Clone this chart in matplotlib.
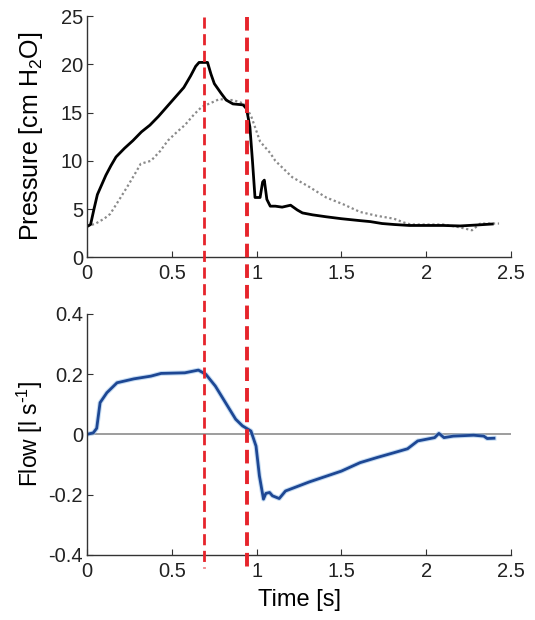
import numpy as np
import matplotlib
matplotlib.use("Agg")
import matplotlib.pyplot as plt
from matplotlib.lines import Line2D
from matplotlib.ticker import FormatStrFormatter
import matplotlib.transforms as mtransforms

# solid pressure trace
p_solid_t = [0.0, 0.02, 0.04, 0.06, 0.08, 0.11, 0.14, 0.17, 0.22, 0.27, 0.32, 0.37,
             0.42, 0.47, 0.52, 0.57, 0.61, 0.64, 0.66, 0.71, 0.73, 0.75, 0.79, 0.82,
             0.86, 0.92, 0.94, 0.96, 0.975, 0.99, 1.02, 1.035, 1.045, 1.06, 1.08, 1.11,
             1.15, 1.2, 1.24, 1.27, 1.33, 1.41, 1.5, 1.61, 1.67, 1.74, 1.81, 1.9, 2.0,
             2.1, 2.2, 2.3, 2.39]
p_solid = [3.2, 3.4, 5.0, 6.5, 7.3, 8.5, 9.5, 10.4, 11.3, 12.1, 13.0, 13.7,
           14.6, 15.6, 16.6, 17.6, 18.8, 19.8, 20.2, 20.2, 19.0, 18.0, 17.0, 16.3,
           15.9, 15.8, 15.4, 13.5, 10.0, 6.2, 6.2, 7.8, 8.0, 6.0, 5.3, 5.3,
           5.2, 5.4, 4.9, 4.6, 4.4, 4.2, 4.0, 3.8, 3.7, 3.5, 3.4, 3.3, 3.3,
           3.3, 3.25, 3.35, 3.45]

# dotted pressure trace
p_dot_t = [0.0, 0.05, 0.1, 0.136, 0.19, 0.236, 0.28, 0.316, 0.376, 0.43, 0.476, 0.53,
           0.576, 0.63, 0.676, 0.73, 0.78, 0.83, 0.86, 0.93, 0.97, 1.0, 1.02, 1.08,
           1.11, 1.21, 1.31, 1.41, 1.51, 1.61, 1.71, 1.81, 1.87, 1.91, 2.0, 2.1, 2.2,
           2.27, 2.32, 2.43]
p_dot = [3.2, 3.5, 4.0, 4.5, 6.0, 7.3, 8.6, 9.7, 10.0, 11.0, 12.1, 13.0,
         13.7, 14.8, 15.6, 16.0, 16.4, 16.3, 16.3, 15.9, 14.5, 13.0, 12.0, 10.8,
         10.0, 8.3, 7.3, 6.2, 5.5, 4.7, 4.3, 4.0, 3.6, 3.4, 3.4, 3.4, 3.1,
         2.8, 3.5, 3.5]

# flow trace
flow_t = [0.0, 0.036, 0.056, 0.076, 0.116, 0.176, 0.276, 0.376, 0.436, 0.576, 0.656,
          0.70, 0.756, 0.816, 0.876, 0.916, 0.966, 0.996, 1.016, 1.04, 1.054, 1.076,
          1.093, 1.133, 1.17, 1.31, 1.5, 1.61, 1.71, 1.81, 1.89, 1.95, 2.05, 2.075,
          2.105, 2.16, 2.28, 2.34, 2.36, 2.40]
flow = [0.0, 0.005, 0.02, 0.105, 0.138, 0.171, 0.184, 0.193, 0.202, 0.204, 0.213,
        0.199, 0.16, 0.105, 0.05, 0.028, 0.011, -0.039, -0.138, -0.215, -0.196, -0.193,
        -0.204, -0.213, -0.188, -0.158, -0.122, -0.094, -0.077, -0.061, -0.048, -0.022,
        -0.011, 0.003, -0.011, -0.006, -0.003, -0.006, -0.014, -0.013]

event_times = [0.69, 0.94]

plt.rcParams["font.family"] = ["Liberation Sans", "DejaVu Sans"]
plt.rcParams["mathtext.default"] = "regular"
plt.rcParams["xtick.direction"] = "in"
plt.rcParams["ytick.direction"] = "in"

fig = plt.figure(figsize=(5.35, 6.2), dpi=100)
ax1 = fig.add_axes([0.163, 0.585, 0.792, 0.389])
ax2 = fig.add_axes([0.163, 0.105, 0.792, 0.389])

ax1.plot(p_dot_t, p_dot, color="#8a8a8a", lw=1.6, linestyle=(0, (1, 1.2)))
ax1.plot(p_solid_t, p_solid, color="black", lw=2)
ax1.set_xlim(0, 2.5)
ax1.set_ylim(0, 25)
ax1.set_yticks([0, 5, 10, 15, 20, 25])
ax1.set_ylabel("Pressure [cm H$_2$O]", fontsize=18)

ax2.axhline(0, xmin=0, xmax=1, color="#8c8c8c", lw=1.2)
ax2.plot(flow_t, flow, color="#9ec4ea", lw=3.5, alpha=0.6)
ax2.plot(flow_t, flow, color="#1d4794", lw=2)
ax2.set_xlim(0, 2.5)
ax2.set_ylim(-0.4, 0.4)
ax2.set_yticks([-0.4, -0.2, 0, 0.2, 0.4])
ax2.set_ylabel("Flow [l s$^{\\text{-}1}$]", fontsize=16.5)
ax2.set_xlabel("Time [s]", fontsize=17, labelpad=6)

for ax in (ax1, ax2):
    ax.set_xticks([0, 0.5, 1, 1.5, 2, 2.5])
    ax.xaxis.set_major_formatter(FormatStrFormatter("%g"))
    ax.yaxis.set_major_formatter(FormatStrFormatter("%g"))
    ax.spines["top"].set_visible(False)
    ax.spines["right"].set_visible(False)
    for s in ("left", "bottom"):
        ax.spines[s].set_color("#333333")
        ax.spines[s].set_linewidth(1)
    ax.tick_params(labelsize=14.5, colors="#333333", length=4, labelcolor="#222222")
    ax.tick_params(axis="x", pad=5)
    ax.tick_params(axis="y", pad=3)
    ax.yaxis.set_label_coords(-0.1, 0.5)

# red event lines spanning both panels
trans = mtransforms.blended_transform_factory(ax1.transData, fig.transFigure)
styles = [(2.0, (0, (4, 2))), (2.8, (0, (3.5, 1.8)))]
for t, (lw, ls) in zip(event_times, styles):
    fig.add_artist(Line2D([t, t], [1 - 17 / 620, 1 - 568 / 620], transform=trans,
                          color="#e6242b", lw=lw, linestyle=ls))

fig.savefig("out.png", dpi=100)
